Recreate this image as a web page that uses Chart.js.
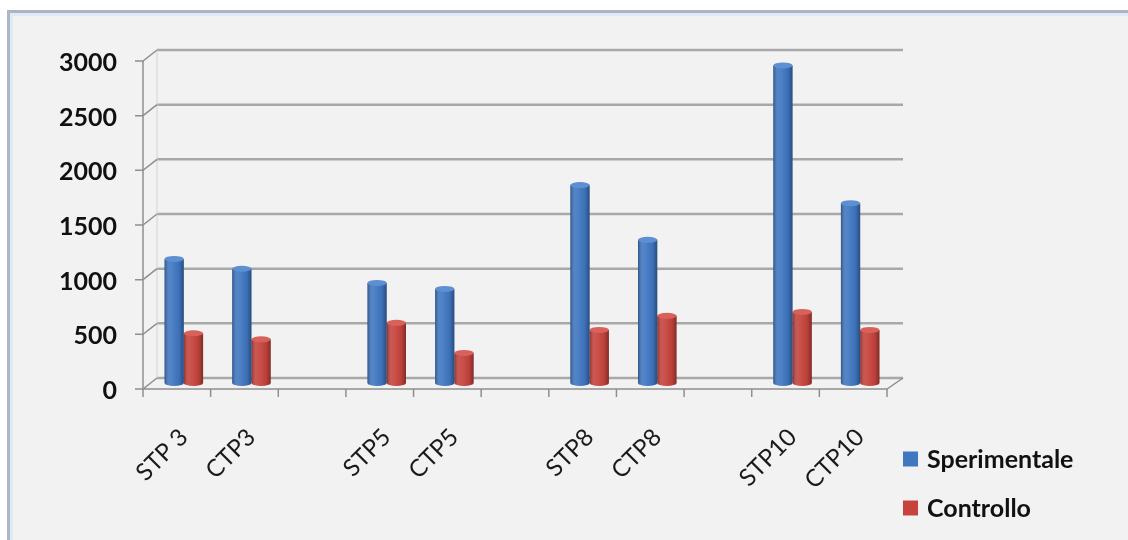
<!DOCTYPE html>
<html>
<head>
<meta charset="utf-8">
<script src="https://cdn.jsdelivr.net/npm/chart.js@4/dist/chart.umd.min.js"></script>
<style>
  html, body { margin: 0; padding: 0; background: #ffffff; }
  #wrap { position: relative; width: 1128px; height: 540px; overflow: hidden; }
  #frame {
    position: absolute; left: 7px; top: 10px; right: -10px; bottom: -10px;
    background: #f2f2f2;
    border-left: 3px solid #a9b7c6;
    border-top: 3px solid #a9b5c2;
    box-shadow: inset 3px 3px 0 #dfe9f4;
  }
  #chart { position: absolute; left: 0; top: 0; }
</style>
</head>
<body>
<div id="wrap">
  <div id="frame"></div>
  <canvas id="chart" width="1128" height="540"></canvas>
</div>
<script>
// Categories (blank entries are the gaps between the sampling groups)
const categories = ['STP 3', 'CTP3', '', 'STP5', 'CTP5', '', 'STP8', 'CTP8', '', 'STP10', 'CTP10'];

// Series values
const sperimentale = [1135, 1045, null, 915, 860, null, 1810, 1310, null, 2905, 1645];
const controllo    = [455, 400, null, 550, 275, null, 485, 615, null, 650, 485];

// Value axis ticks
const yTicks = [0, 500, 1000, 1500, 2000, 2500, 3000];

const seriesNames  = ['Sperimentale', 'Controllo'];
const seriesColors = ['#4077c1', '#c6443d'];
const capColors    = ['#5d8fd3', '#d8625b'];

// depth offsets of the pseudo-3D box: back wall and front edge
const DX = 7, DB = 5, DF = 6;

const box3d = {
  id: 'box3d',
  beforeDatasetsDraw(chart) {
    const { ctx, chartArea: a, scales: { x, y } } = chart;
    const catW = x.getPixelForValue(1) - x.getPixelForValue(0);
    const n = categories.length;
    ctx.save();
    // back-wall gridlines
    ctx.strokeStyle = '#a8a8a8';
    ctx.lineWidth = 2.5;
    yTicks.forEach(v => {
      const py = y.getPixelForValue(v);
      ctx.beginPath();
      ctx.moveTo(a.left + DX, py - DB);
      ctx.lineTo(a.right + DX + 2, py - DB);
      ctx.stroke();
    });
    // left wall edge of the back panel
    ctx.strokeStyle = '#d4d4d4';
    ctx.lineWidth = 1;
    ctx.beginPath();
    ctx.moveTo(a.left + DX, y.getPixelForValue(3000) - DB);
    ctx.lineTo(a.left + DX, y.getPixelForValue(0) - DB);
    ctx.stroke();
    // side-wall connectors and value-axis tick marks
    ctx.strokeStyle = '#8f8f8f';
    ctx.lineWidth = 1.5;
    yTicks.forEach(v => {
      const py = y.getPixelForValue(v);
      ctx.beginPath();
      ctx.moveTo(a.left - DX - 8, py + DF);
      ctx.lineTo(a.left - DX, py + DF);
      ctx.lineTo(a.left + DX, py - DB);
      ctx.stroke();
    });
    // front value axis
    const y0 = y.getPixelForValue(0);
    ctx.beginPath();
    ctx.moveTo(a.left - DX, y.getPixelForValue(3000) + DF);
    ctx.lineTo(a.left - DX, y0 + DF);
    ctx.stroke();
    // floor front edge + right side
    ctx.beginPath();
    ctx.moveTo(a.left - DX, y0 + DF);
    ctx.lineTo(a.right - DX, y0 + DF);
    ctx.lineTo(a.right + DX + 2, y0 - DB);
    ctx.stroke();
    // category boundary ticks
    for (let i = 0; i <= n; i++) {
      const bx = a.left + i * catW - DX;
      ctx.beginPath();
      ctx.moveTo(bx, y0 + DF);
      ctx.lineTo(bx, y0 + DF + 8);
      ctx.stroke();
    }
    ctx.restore();
  },
  afterDatasetsDraw(chart) {
    const { ctx } = chart;
    ctx.save();
    chart.data.datasets.forEach((ds, di) => {
      const meta = chart.getDatasetMeta(di);
      meta.data.forEach((bar, i) => {
        if (ds.data[i] == null) return;
        const p = bar.getProps(['x', 'y', 'base', 'width'], true);
        const l = p.x - p.width / 2, r = p.x + p.width / 2;
        const g = ctx.createLinearGradient(l, 0, r, 0);
        g.addColorStop(0, 'rgba(0,0,0,0.30)');
        g.addColorStop(0.25, 'rgba(255,255,255,0.10)');
        g.addColorStop(0.45, 'rgba(255,255,255,0.06)');
        g.addColorStop(0.75, 'rgba(0,0,0,0.05)');
        g.addColorStop(1, 'rgba(0,0,0,0.35)');
        // rounded base
        ctx.beginPath();
        ctx.ellipse(p.x, p.base, p.width / 2, 3, 0, 0, Math.PI);
        ctx.fillStyle = seriesColors[di];
        ctx.fill();
        ctx.fillStyle = g;
        ctx.fill();
        ctx.fillRect(l, p.y, p.width, p.base - p.y);
        // top cap
        ctx.beginPath();
        ctx.ellipse(p.x, p.y, p.width / 2, 3, 0, 0, Math.PI * 2);
        ctx.fillStyle = capColors[di];
        ctx.fill();
      });
    });
    ctx.restore();
  },
  afterDraw(chart) {
    const { ctx, chartArea: a } = chart;
    ctx.save();
    ctx.font = 'bold 25px Lato';
    ctx.textBaseline = 'middle';
    const rows = [a.bottom + 76, a.bottom + 125];
    chart.data.datasets.forEach((ds, di) => {
      const bx = a.right + 9;
      ctx.fillStyle = seriesColors[di];
      ctx.fillRect(bx, rows[di] - 7.5, 15, 15);
      ctx.fillStyle = '#111111';
      ctx.fillText(ds.label, bx + 24, rows[di] + 1);
    });
    ctx.restore();
  }
};

new Chart(document.getElementById('chart'), {
  type: 'bar',
  data: {
    labels: categories,
    datasets: [
      { label: seriesNames[0], data: sperimentale, backgroundColor: seriesColors[0] },
      { label: seriesNames[1], data: controllo, backgroundColor: seriesColors[1] }
    ]
  },
  options: {
    responsive: false,
    devicePixelRatio: 1,
    animation: false,
    layout: { padding: { top: 55, right: 234, left: 0, bottom: 0 } },
    datasets: { bar: { categoryPercentage: 0.57, barPercentage: 1.0 } },
    plugins: { legend: { display: false }, tooltip: { enabled: false } },
    scales: {
      x: {
        grid: { display: false, drawTicks: false },
        border: { display: false },
        ticks: {
          autoSkip: false,
          minRotation: 45, maxRotation: 45,
          padding: 40,
          color: '#1a1a1a',
          font: { family: 'Lato', size: 24 }
        },
        afterFit(s) { s.height = 157; }
      },
      y: {
        min: 0, max: 3000,
        grid: { display: false, drawTicks: false },
        border: { display: false },
        afterBuildTicks(s) { s.ticks = yTicks.map(v => ({ value: v })); },
        ticks: {
          padding: 33,
          labelOffset: 8,
          color: '#111111',
          font: { family: 'Lato', size: 25, weight: 'bold' },
          callback: v => String(v)
        },
        afterFit(s) { s.width = 150; }
      }
    }
  },
  plugins: [box3d]
});
</script>
</body>
</html>
